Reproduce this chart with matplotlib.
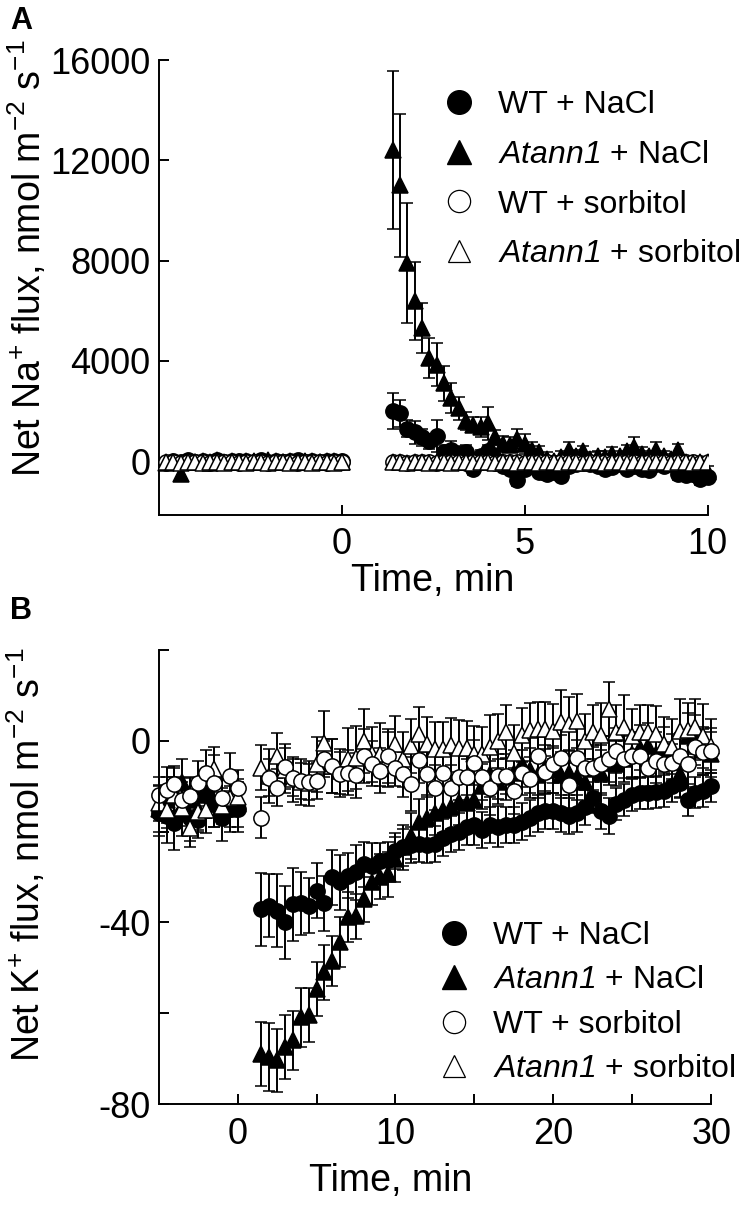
import matplotlib
matplotlib.use('Agg')
import matplotlib.pyplot as plt
from matplotlib.lines import Line2D

plt.rcParams['font.family'] = ['Liberation Sans', 'DejaVu Sans']
plt.rcParams['mathtext.fontset'] = 'custom'
# math mode is only used for the italic gene name, so digits go italic too
plt.rcParams['mathtext.rm'] = 'Liberation Sans:italic'
plt.rcParams['mathtext.it'] = 'Liberation Sans:italic'
plt.rcParams['mathtext.sf'] = 'Liberation Sans'
plt.rcParams['axes.unicode_minus'] = False

# ---------------- Panel A: Na+ flux ----------------
tA_pre = [-4.8, -4.6, -4.4, -4.2, -4.0, -3.8, -3.6, -3.4, -3.2, -3.0, -2.8, -2.6, -2.4,
          -2.2, -2.0, -1.8, -1.6, -1.4, -1.2, -1.0, -0.8, -0.6, -0.4, -0.2, 0.0]
tA_post = [1.4, 1.6, 1.8, 2.0, 2.2, 2.4, 2.6, 2.8, 3.0, 3.2, 3.4, 3.6, 3.8, 4.0, 4.2,
           4.4, 4.6, 4.8, 5.0, 5.2, 5.4, 5.6, 5.8, 6.0, 6.2, 6.4, 6.6, 6.8, 7.0, 7.2,
           7.4, 7.6, 7.8, 8.0, 8.2, 8.4, 8.6, 8.8, 9.0, 9.2, 9.4, 9.6, 9.8, 10.0]

# WT + NaCl
naA_wt_pre = [-60, 20, -40, 30, -20, 10, -50, 40, -30, 0, 20, -10, -40, 30, -20, 10,
              -30, 0, 40, -20, 10, -40, 20, -10, 0]
naA_wt_pre_err = [150, 120, 140, 130, 150, 120, 140, 130, 150, 120, 140, 130, 150, 120,
                  140, 130, 150, 120, 140, 130, 150, 120, 140, 130, 150]
naA_wt_post = [2000, 1900, 1300, 1150, 950, 800, 1000, 350, 450, 300, 350, -300, 200,
               400, 100, -200, -300, -750, -300, -200, -450, -500, -450, -600, -200,
               -100, 0, -100, -200, -300, -250, -100, -300, -200, -300, -350, -100,
               -200, -100, -500, -550, -500, -700, -650]
naA_wt_post_err = [700, 550, 350, 450, 350, 300, 650, 300, 350, 300, 300, 250, 250, 250,
                   250, 200, 200, 250, 200, 200, 200, 250, 200, 200, 200, 200, 200, 200,
                   200, 200, 200, 200, 200, 200, 200, 200, 200, 200, 200, 250, 200, 200,
                   250, 200]

# Atann1 + NaCl
naA_mut_pre = [-80, -40, -520, 20, -30, 10, -60, 30, -20, 0, -40, 20, -10, -50, 30, 0,
               -20, 10, -30, 20, -10, -40, 0, 20, -20]
naA_mut_pre_err = [150, 140, 160, 130, 150, 120, 140, 130, 150, 120, 140, 130, 150, 120,
                   140, 130, 150, 120, 140, 130, 150, 120, 140, 130, 150]
naA_mut_post = [12400, 11000, 7900, 6400, 5300, 4100, 3850, 3100, 2500, 2100, 1600, 1450,
                1350, 1500, 950, 700, 650, 900, 700, 450, 350, 100, 0, 150, 450, 200,
                400, 100, 200, 150, 300, 200, 400, 550, 300, 200, 450, 200, 100, 450,
                -300, -400, -500, -450]
naA_mut_post_err = [3150, 2850, 2400, 1550, 1000, 800, 850, 700, 600, 450, 350, 300, 400,
                    650, 300, 300, 300, 400, 400, 300, 250, 250, 200, 250, 300, 250, 200,
                    250, 200, 250, 250, 200, 250, 400, 250, 200, 300, 200, 200, 250, 200,
                    200, 250, 250]

# WT + sorbitol
naA_wts_pre = [-50, -40, -60, -50, -40, -50, -60, -50, -40, -50, -60, -50, -40, -50, -60,
               -50, -40, -50, -60, -50, -40, -50, -60, -50, -40]
naA_wts_post = [-50, -40, -60, -50, -40, -50, -60, -50, -40, -50, -60, -50, -40, -50,
                -60, -50, -40, -50, -60, -50, -40, -50, -60, -50, -40, -50, -60, -50,
                -40, -50, -60, -50, -40, -50, -60, -50, -40, -50, -60, -50, -40, -50,
                -60, -50]
# Atann1 + sorbitol
naA_muts_pre = [-40, -50, -60, -40, -50, -60, -40, -50, -60, -40, -50, -60, -40, -50,
                -60, -40, -50, -60, -40, -50, -60, -40, -50, -60, -40]
naA_muts_post = [-40, -50, -60, -40, -50, -60, -40, -50, -60, -40, -50, -60, -40, -50,
                 -60, -40, -50, -60, -40, -50, -60, -40, -50, -60, -40, -50, -60, -40,
                 -50, -60, -40, -50, -60, -40, -50, -60, -40, -50, -60, -40, -50, -60,
                 -40, -50]

# ---------------- Panel B: K+ flux ----------------
tB_pre = [-5.0, -4.5, -4.0, -3.5, -3.0, -2.5, -2.0, -1.5, -1.0, -0.5, 0.0]
tB_post = [1.5, 2.0, 2.5, 3.0, 3.5, 4.0, 4.5, 5.0, 5.5, 6.0, 6.5, 7.0, 7.5, 8.0, 8.5,
           9.0, 9.5, 10.0, 10.5, 11.0, 11.5, 12.0, 12.5, 13.0, 13.5, 14.0, 14.5, 15.0,
           15.5, 16.0, 16.5, 17.0, 17.5, 18.0, 18.5, 19.0, 19.5, 20.0, 20.5, 21.0, 21.5,
           22.0, 22.5, 23.0, 23.5, 24.0, 24.5, 25.0, 25.5, 26.0, 26.5, 27.0, 27.5, 28.0,
           28.5, 29.0, 29.5, 30.0]

kB_wt_pre = [-16, -16.5, -18, -16, -17, -17.5, -12, -14, -17, -15, -15]
kB_wt_pre_err = [5, 6, 6, 5, 5, 4, 5, 5, 5, 4, 5]
kB_wt_post = [-37.1, -36.3, -37.4, -40.0, -36.0, -35.8, -36.3, -33.0, -35.8, -30.1, -31.2,
              -29.7, -29.0, -27.2, -27.5, -26.5, -26.2, -24.3, -23.5, -23.0, -22.8, -22.9,
              -22.8, -21.3, -20.5, -20.0, -19.0, -18.5, -19.6, -18.5, -18.9, -18.6, -18.5,
              -17.8, -17.0, -16.0, -15.5, -15.5, -16.0, -16.5, -16.0, -14.5, -12.5, -15.5,
              -16.5, -14.0, -13.0, -12.0, -11.5, -11.5, -11.2, -11.0, -10.0, -9.2, -13.0,
              -11.4, -11.0, -10.0]
kB_wt_post_err = [8, 7, 8, 8, 8, 7, 6, 6, 6, 6, 6, 5, 6, 5, 5, 4, 4, 4, 4, 4, 4, 4, 4,
                  4, 4, 4, 4, 4.5, 4, 4, 4.5, 4, 4, 4, 4, 4, 4, 4, 4, 4, 4, 4, 3.5, 4,
                  4, 3.5, 3.5, 3.5, 3.5, 3.5, 3.5, 3.5, 3.5, 3.5, 3.5, 3.5, 3.5, 3.5]

kB_mut_pre = [-15, -13, -11, -9, -13, -15, -12, -14, -13, -15, -14]
kB_mut_pre_err = [5, 5, 5, 5, 5, 5, 5, 5, 5, 5, 5]
kB_mut_post = [-69.0, -69.7, -70.4, -67.5, -66.0, -60.9, -60.4, -54.7, -51.0, -48.4,
               -44.4, -38.9, -38.7, -34.9, -31.2, -29.9, -29.4, -26.1, -23.5, -21.0,
               -17.8, -17.0, -15.8, -15.2, -14.5, -13.5, -13.7, -13.0, -10.0, -7.4, -9.0,
               -8.0, -7.0, -5.2, -6.5, -7.5, -6.0, -6.5, -7.5, -7.0, -8.0, -9.0, -6.3,
               -7.0, -4.8, -5.0, -4.0, -3.0, -1.5, -1.1, -3.0, -2.0, -3.5, -7.4, 1.1,
               0.7, -2.0, -3.0]
kB_mut_post_err = [7, 7.5, 7, 7, 6.5, 6.5, 6, 6, 6, 5.5, 5.5, 5.5, 5, 5, 5, 5, 5, 5, 5,
                   5, 5, 5, 5, 5, 5, 5, 5, 5, 5, 5, 5, 5, 5, 5, 5, 5, 5, 5, 5, 5, 5, 5,
                   5, 5, 5, 5, 5, 5, 5, 5, 5, 5, 5, 5, 5, 5, 5, 5]

kB_wts_pre = [-11.9, -10.8, -9.5, -13.0, -12.1, -9.4, -7.0, -9.2, -12.6, -7.7, -10.4]
kB_wts_pre_err = [4, 5, 4, 4, 4, 5, 5, 6, 4, 5, 4]
kB_wts_post = [-16.9, -8.1, -10.3, -5.7, -8.1, -8.8, -9.0, -8.8, -4.0, -5.5, -7.4, -7.0,
               -7.6, -3.3, -5.0, -6.6, -3.3, -6.0, -7.4, -9.5, -4.2, -7.4, -10.3, -7.0,
               -10.4, -8.0, -8.0, -4.8, -8.0, -10.4, -7.8, -7.8, -11.1, -7.0, -8.5, -3.3,
               -6.8, -5.2, -3.8, -9.8, -3.8, -5.9, -5.9, -5.0, -4.0, -2.2, -4.1, -3.3,
               -3.3, -5.9, -4.4, -5.2, -4.8, -3.3, -5.2, -1.3, -2.5, -2.2]
kB_wts_post_err = [4.6, 4, 4, 5, 4, 4, 4, 4, 4, 6, 5, 5, 5, 6, 5, 5, 6, 4, 5, 6, 5, 5,
                   5, 4, 5, 5, 4, 5, 5, 6, 5, 4, 5, 5, 4, 5, 5, 4, 5, 5, 4, 5, 5, 4, 5,
                   5, 4, 5, 5, 4, 5, 5, 4, 5, 5, 4, 5, 5]

kB_muts_pre = [-13.7, -15.2, -12.0, -14.8, -19.3, -15.6, -15.2, -6.3, -14.4, -12.6, -12.4]
kB_muts_pre_err = [4, 4, 4, 4, 4, 4, 5, 5, 4, 4, 4]
kB_muts_post = [-5.9, -7.8, -3.3, -6.5, -8.5, -9.1, -9.4, -5.2, -0.4, -5.6, -6.7, -4.1,
                -3.7, 0.0, -3.0, -3.0, -4.1, -0.6, -4.1, -1.1, 1.5, -0.7, -1.9, -1.9,
                -0.9, -1.5, -1.6, -2.8, -3.0, -1.3, 0.0, 1.9, -2.6, 1.3, 2.4, 2.6, 2.6,
                2.1, 4.1, 3.7, 4.4, 0.0, 1.9, 1.3, 7.0, 1.9, 3.1, 1.1, 1.9, 1.9, 1.6,
                -0.7, -1.3, 2.1, 2.4, 3.1, 1.0, -1.1]
kB_muts_post_err = [5, 6, 5, 5, 5, 5, 5, 6, 7, 6, 5, 7, 7, 7, 6, 7, 6, 6, 6, 6, 6, 6, 6,
                    6, 6, 6, 6, 6, 6, 7, 6, 6, 6, 6, 6, 6, 6, 6, 7, 6, 6, 6, 6, 7, 6, 6,
                    7, 6, 6, 6, 6, 6, 6, 7, 6, 6, 7, 6]

LABELS = ['WT + NaCl', '$Atann1$ + NaCl', 'WT + sorbitol', '$Atann1$ + sorbitol']

TICK_FS = 26
LABEL_FS = 27
LEG_FS = 23
MS = 11


def series(ax, t, y, err, marker, face, z):
    ax.errorbar(t, y, yerr=err, fmt=marker, ms=MS, mfc=face, mec='black', mew=1.1,
                ecolor='black', elinewidth=1.4, capsize=4, capthick=1.4,
                zorder=z, clip_on=False)


def style_axis(ax):
    ax.spines['top'].set_visible(False)
    ax.spines['right'].set_visible(False)
    ax.spines['left'].set_linewidth(1.4)
    ax.spines['bottom'].set_linewidth(1.4)
    ax.tick_params(direction='in', length=7, width=1.4, labelsize=TICK_FS)
    ax.tick_params(which='minor', direction='in', length=7, width=1.4)
    ax.tick_params(axis='x', pad=9)
    ax.tick_params(axis='y', pad=6)


def legend(ax, anchor, spacing):
    handles = [
        Line2D([], [], ls='none', marker='o', ms=17, mfc='black', mec='black'),
        Line2D([], [], ls='none', marker='^', ms=17, mfc='black', mec='black'),
        Line2D([], [], ls='none', marker='o', ms=16, mfc='white', mec='black', mew=0.9),
        Line2D([], [], ls='none', marker='^', ms=16, mfc='white', mec='black', mew=0.9),
    ]
    ax.legend(handles, LABELS, loc='upper left', bbox_to_anchor=anchor,
              bbox_transform=ax.figure.transFigure, frameon=False, fontsize=LEG_FS,
              handlelength=1.0, handletextpad=0.7, labelspacing=spacing,
              borderpad=0, borderaxespad=0)


fig = plt.figure(figsize=(7.47, 12.08), dpi=100)

# Panel A
axA = fig.add_axes([158.6 / 747, 1 - 515 / 1208, 549 / 747, 455 / 1208])
series(axA, tA_pre, naA_wt_pre, naA_wt_pre_err, 'o', 'black', 2)
series(axA, tA_post, naA_wt_post, naA_wt_post_err, 'o', 'black', 2)
series(axA, tA_pre, naA_mut_pre, naA_mut_pre_err, '^', 'black', 2.1)
series(axA, tA_post, naA_mut_post, naA_mut_post_err, '^', 'black', 2.1)
for t, y in [(tA_pre, naA_wts_pre), (tA_post, naA_wts_post)]:
    axA.plot(t, y, 'o', ms=MS, mfc='white', mec='black', mew=1.1, zorder=3)
for t, y in [(tA_pre, naA_muts_pre), (tA_post, naA_muts_post)]:
    axA.plot(t, y, '^', ms=MS, mfc='white', mec='black', mew=1.1, zorder=3.1)
axA.set_xlim(-5, 10)
axA.set_ylim(-2150, 16000)
axA.set_xticks([0, 5, 10])
axA.set_yticks([0, 4000, 8000, 12000, 16000])
style_axis(axA)
axA.set_xlabel('Time, min', fontsize=LABEL_FS)
axA.set_ylabel(r'Net Na$^{\mathsf{+}}$ flux, nmol m$^{\mathsf{-2}}$ s$^{\mathsf{-1}}$',
               fontsize=LABEL_FS)
axA.xaxis.set_label_coords(0.5, -0.105)
axA.yaxis.set_label_coords(-0.2, 0.565)
legend(axA, (443.5 / 747, 1 - 90 / 1208), 0.62)

# Panel B
axB = fig.add_axes([158.7 / 747, 1 - 1104 / 1208, 552.5 / 747, 454 / 1208])
series(axB, tB_pre, kB_wt_pre, kB_wt_pre_err, 'o', 'black', 2)
series(axB, tB_post, kB_wt_post, kB_wt_post_err, 'o', 'black', 2)
series(axB, tB_pre, kB_mut_pre, kB_mut_pre_err, '^', 'black', 2.1)
series(axB, tB_post, kB_mut_post, kB_mut_post_err, '^', 'black', 2.1)
series(axB, tB_pre, kB_muts_pre, kB_muts_pre_err, '^', 'white', 2.2)
series(axB, tB_post, kB_muts_post, kB_muts_post_err, '^', 'white', 2.2)
series(axB, tB_pre, kB_wts_pre, kB_wts_pre_err, 'o', 'white', 2.3)
series(axB, tB_post, kB_wts_post, kB_wts_post_err, 'o', 'white', 2.3)
axB.set_xlim(-5, 30)
axB.set_ylim(-80, 20)
axB.set_xticks([0, 10, 20, 30])
axB.set_xticks([5, 15, 25], minor=True)
axB.set_yticks([-80, -40, 0])
axB.set_yticks([-60, -20, 20], minor=True)
style_axis(axB)
axB.set_xlabel('Time, min', fontsize=LABEL_FS)
axB.set_ylabel(r'Net K$^{\mathsf{+}}$ flux, nmol m$^{\mathsf{-2}}$ s$^{\mathsf{-1}}$',
               fontsize=LABEL_FS)
axB.xaxis.set_label_coords(0.42, -0.13)
axB.yaxis.set_label_coords(-0.2, 0.55)
legend(axB, (438.5 / 747, 1 - 921 / 1208), 0.45)

fig.text(10 / 747, 1 - 6 / 1208, 'A', fontsize=22, fontweight='bold', va='top')
fig.text(10 / 747, 1 - 596 / 1208, 'B', fontsize=22, fontweight='bold', va='top')

fig.savefig('out.png', dpi=100)
